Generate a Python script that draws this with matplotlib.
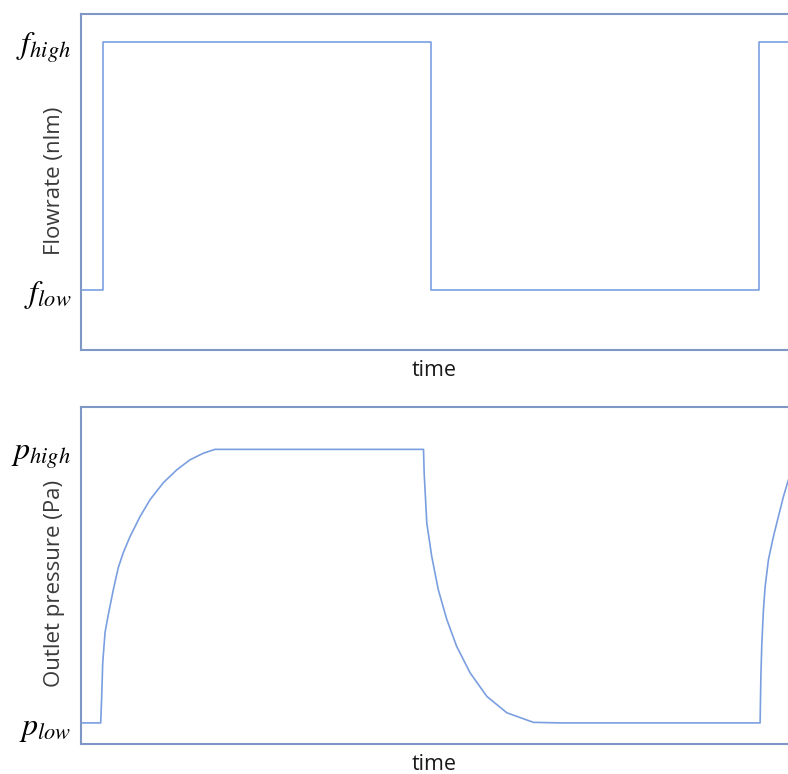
# 流量阶跃与出口压力响应示意图
import matplotlib.pyplot as plt

# 流量：阶跃时刻与数值（低=1，高=2）
flow_t = [0, 6.7, 106.7, 206.7, 215.5]
flow_v = [1, 2, 1, 2, 2]

# 出口压力：点
p_t = [0, 6.0, 6.31, 6.62, 7.32, 8.32, 9.85, 11.37, 12.90, 14.94, 17.99,
       21.04, 25.09, 29.18, 33.23, 37.29, 40.85, 104.4, 104.6, 105.4, 106.9,
       108.9, 111.5, 114.5, 118.6, 123.7, 129.8, 137.9, 146.0, 207.0, 207.23,
       207.53, 208.02, 208.54, 209.54, 211.07, 212.59, 214.12, 215.64]
p_v = [1.0, 1.0, 1.097, 1.219, 1.330, 1.396, 1.487, 1.568, 1.623, 1.681, 1.754,
       1.816, 1.878, 1.925, 1.962, 1.986, 2.0, 2.0, 1.913, 1.731, 1.609,
       1.487, 1.378, 1.280, 1.183, 1.097, 1.037, 1.002, 1.0, 1.0, 1.171,
       1.292, 1.414, 1.499, 1.597, 1.682, 1.755, 1.828, 1.889]

f_ticks = ['$f_{low}$', '$f_{high}$']
p_ticks = ['$p_{low}$', '$p_{high}$']

plt.rcParams['mathtext.fontset'] = 'stix'
plt.rcParams['font.family'] = ['Open Sans', 'DejaVu Sans']

line_c = '#7a9fe0'
spine_c = '#7f97c6'
label_c = '#3a3a3a'

fig = plt.figure(figsize=(7.88, 7.74), dpi=100)
ax1 = fig.add_axes([0.1028, 0.5478, 0.8972, 0.4341])
ax2 = fig.add_axes([0.1028, 0.0388, 0.8972, 0.4354])


def style(ax, ticks, ylabel, ylim, label_y):
    ax.set_xlim(0, 215.5)
    ax.set_ylim(*ylim)
    ax.set_xticks([])
    ax.set_yticks([1, 2])
    ax.set_yticklabels(ticks, fontsize=23)
    ax.tick_params(axis='y', length=0, pad=7)
    ax.spines['right'].set_visible(False)
    for s in ['left', 'top', 'bottom']:
        ax.spines[s].set_color(spine_c)
        ax.spines[s].set_linewidth(1.5)
    ax.set_xlabel('time', fontsize=15.5, color='#1a1a1a', labelpad=7)
    ax.set_ylabel(ylabel, fontsize=16, color=label_c)
    ax.yaxis.set_label_coords(-0.022, label_y)


ax1.step(flow_t, flow_v, where='post', color=line_c, lw=1.2)
style(ax1, f_ticks, 'Flowrate (nlm)', (0.758, 2.113), 0.505)

ax2.plot(p_t, p_v, color=line_c, lw=1.2)
style(ax2, p_ticks, 'Outlet pressure (Pa)', (0.923, 2.155), 0.475)

plt.savefig('out.png', dpi=100)
